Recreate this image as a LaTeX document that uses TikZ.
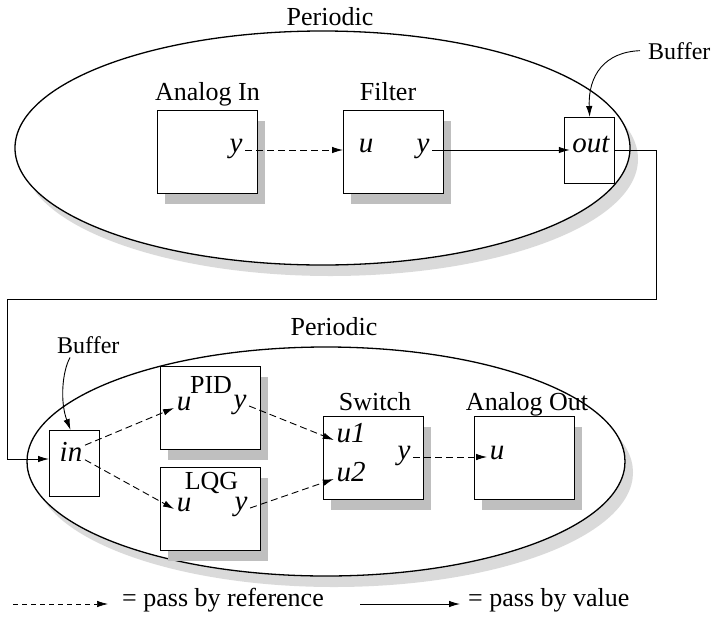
\documentclass[tikz,border=0pt]{standalone}
\usepackage{fontspec}
\setmainfont{Liberation Serif}
\usetikzlibrary{arrows.meta,shadows}
\definecolor{boxshadow}{HTML}{BFBFBF}
\definecolor{ellshadow}{HTML}{DADADA}
\begin{document}
\begin{tikzpicture}[x=1pt,y=-1pt,
  lbl/.style={font=\fontsize{26}{31}\selectfont, inner sep=0pt, anchor=base},
  buflbl/.style={font=\fontsize{24}{29}\selectfont, inner xsep=8pt, inner ysep=4pt, anchor=base west},
  port/.style={font=\fontsize{29}{34}\selectfont\itshape, inner xsep=2.5pt, inner ysep=0pt, anchor=mid},
  boxsh/.style={drop shadow={shadow xshift=7pt,shadow yshift=-10pt,fill=boxshadow,opacity=1}},
  block/.style={draw, line width=1.3pt, fill=white, minimum width=100pt, minimum height=83pt, inner sep=0pt, anchor=north west, boxsh},
  bufbox/.style={draw, line width=1.3pt, fill=white, minimum width=50pt, minimum height=66pt, inner sep=0pt, anchor=north west},
  ell/.style={draw, line width=1.3pt, fill=white},
  ref/.style={line width=0.9pt, dash pattern=on 7pt off 4pt, -{Latex[length=11pt,width=6.5pt]}},
  val/.style={line width=0.9pt, -{Latex[length=11pt,width=6.5pt]}},
  bufarrow/.style={line width=0.9pt, -{Latex[length=11pt,width=6.5pt]}}
]
\useasboundingbox (0,0) rectangle (712,619);

% ---------- top periodic group ----------
\fill[ellshadow] (330.5,159) ellipse [x radius=307.5pt, y radius=117pt];
\path[ell] (322.5,148) ellipse [x radius=307.5pt, y radius=117pt];
\node[lbl] (tper) at (330,25) {Periodic};

\node[block] (ain) at (157,110) {};
\node[block] (fil) at (343,110) {};
\node[bufbox] (outbox) at (564,117) {};
\node[lbl] (ainl) at (207.5,100) {Analog In};
\node[lbl] (fill) at (388,100) {Filter};

\node[port] (aiy) at (236,150) {y};
\node[port] (filu) at (366,150) {u};
\node[port] (fily) at (423,150) {y};
\node[port] (outl) at (591,150) {out};

\node[buflbl] (bufA) at (640,59) {Buffer};

% ---------- bottom periodic group ----------
\fill[ellshadow] (334,472.5) ellipse [x radius=299pt, y radius=114.5pt];
\path[ell] (326,461.5) ellipse [x radius=299pt, y radius=114.5pt];
\node[lbl] (bper) at (334,335) {Periodic};

\node[bufbox] (inbox) at (49,430) {};
\node[block] (pid) at (160,366) {};
\node[block] (lqg) at (160,467) {};
\node[block] (sw) at (323,416) {};
\node[block] (aout) at (474,416) {};

\node[lbl] (pidl) at (211,393) {PID};
\node[lbl] (lqgl) at (211.5,489) {LQG};
\node[lbl] (swl) at (375,410) {Switch};
\node[lbl] (aoutl) at (527,410) {Analog Out};

\node[port] (inl) at (71,459) {in};
\node[port] (pidu) at (184,408) {u};
\node[port] (pidy) at (240,406) {y};
\node[port] (lqgu) at (184,509) {u};
\node[port] (lqgy) at (241,508) {y};
\node[port] (swu1) at (351,440) {u1};
\node[port] (swu2) at (351,479) {u2};
\node[port] (swy) at (404,457) {y};
\node[port] (aou) at (497,457) {u};

\node[buflbl] (bufB) at (49,353) {Buffer};

% ---------- connectors ----------
\draw[ref] (aiy.mid east) -- (filu.mid west -| fil.west);
\draw[val] (fily.mid east) -- (outl.mid west);

\coordinate (c1) at (656,299);
\coordinate (c2) at (7,299);
\draw[val] (outbox.east) -| (c1) -- (c2) |- (inbox.west |- inl.mid);

\draw[bufarrow] (bufA.west) .. controls (605,52) and (588,75) .. (outbox.north);
\draw[bufarrow] (bufB.-145) .. controls (62,372) and (60,402) .. (inbox.97);

\draw[ref] (inl.25) -- (pidu.mid west);
\draw[ref] (inl.-30) -- (lqgu.mid west);
\draw[ref] (pidy.mid east) -- (swu1.mid west);
\draw[ref] (lqgy.mid east) -- (swu2.mid west);
\draw[ref] (swy.mid east) -- (aou.mid west);

% ---------- legend ----------
\coordinate (l1) at (13,604);
\node[font=\fontsize{26}{31}\selectfont, inner xsep=14pt, inner ysep=0pt, anchor=mid west] (lref) at (108,604) {= pass by reference};
\draw[ref, line width=0.7pt, dash pattern=on 5pt off 4pt] (l1) -- (lref.mid west);
\coordinate (l3) at (360,604);
\node[font=\fontsize{26}{31}\selectfont, inner xsep=8pt, inner ysep=0pt, anchor=mid west] (lval) at (460,604) {= pass by value};
\draw[val] (l3) -- (lval.mid west);
\end{tikzpicture}
\end{document}
